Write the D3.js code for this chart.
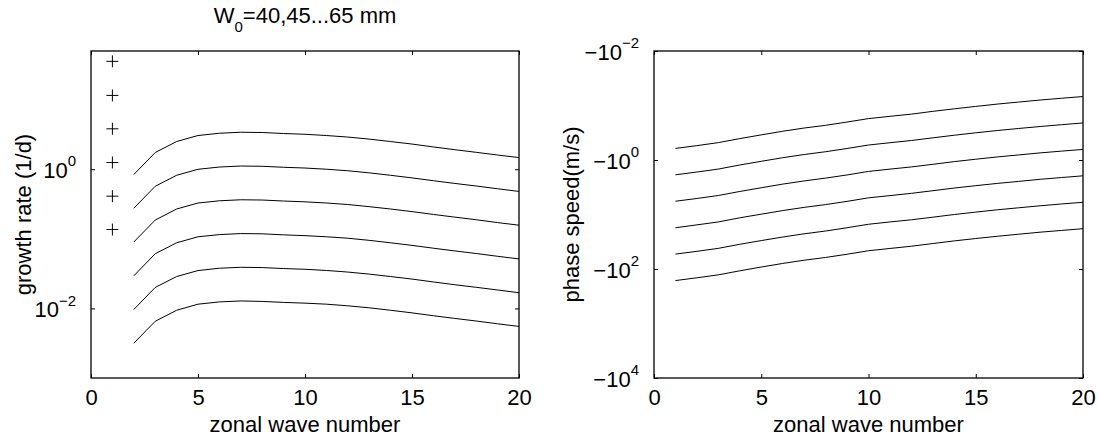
<!DOCTYPE html>
<html>
<head>
<meta charset="utf-8">
<script src="https://cdn.jsdelivr.net/npm/d3@7"></script>
<style>
  body { margin: 0; background: #fff; }
  text { font-family: "Liberation Sans", Arial, sans-serif; fill: #000; }
</style>
</head>
<body>
<svg id="chart" width="1098" height="440"></svg>
<script>
// wave numbers
const waveGrowth = [2, 3, 4, 5, 6, 7, 8, 9, 10, 11, 12, 13, 14, 15, 16, 17, 18, 19, 20];
const waveSpeed  = [1, 2, 3, 4, 5, 6, 7, 8, 9, 10, 11, 12, 13, 14, 15, 16, 17, 18, 19, 20];

// growth rate (1/d), one row per W0, top curve first
const growth65 = [0.839, 1.738, 2.50, 3.05, 3.29, 3.40, 3.37, 3.26, 3.18, 3.05, 2.90, 2.71, 2.50, 2.30, 2.09, 1.91, 1.75, 1.60, 1.47];
const growth60 = [0.275, 0.569, 0.818, 0.998, 1.076, 1.112, 1.102, 1.067, 1.040, 1.000, 0.951, 0.887, 0.818, 0.751, 0.684, 0.625, 0.574, 0.524, 0.480];
const growth55 = [0.0899, 0.186, 0.268, 0.327, 0.352, 0.364, 0.361, 0.349, 0.340, 0.327, 0.311, 0.290, 0.268, 0.246, 0.224, 0.205, 0.188, 0.171, 0.157];
const growth50 = [0.0294, 0.0610, 0.0877, 0.107, 0.115, 0.119, 0.118, 0.114, 0.111, 0.107, 0.102, 0.0951, 0.0877, 0.0805, 0.0733, 0.0670, 0.0615, 0.0561, 0.0514];
const growth45 = [0.00964, 0.0200, 0.0287, 0.0350, 0.0378, 0.0390, 0.0386, 0.0374, 0.0365, 0.0351, 0.0333, 0.0311, 0.0287, 0.0264, 0.0240, 0.0219, 0.0201, 0.0184, 0.0168];
const growth40 = [0.00316, 0.00653, 0.00940, 0.0115, 0.0124, 0.0128, 0.0126, 0.0122, 0.0119, 0.0115, 0.0109, 0.0102, 0.00940, 0.00863, 0.00785, 0.00718, 0.00659, 0.00601, 0.00551];
// growth rate at wave number 1 (the + marks)
const growthK1 = [35.5, 11.5, 3.81, 1.25, 0.410, 0.136];

// phase speed (m/s), top curve first
const speed1 = [-0.612, -0.545, -0.480, -0.405, -0.346, -0.297, -0.259, -0.231, -0.201, -0.174, -0.158, -0.144, -0.128, -0.115, -0.104, -0.0942, -0.0865, -0.0794, -0.0736, -0.0685];
const speed2 = [-1.871, -1.663, -1.466, -1.236, -1.057, -0.908, -0.793, -0.705, -0.615, -0.531, -0.482, -0.439, -0.392, -0.351, -0.317, -0.288, -0.264, -0.243, -0.225, -0.209];
const speed3 = [-5.71, -5.08, -4.48, -3.78, -3.23, -2.77, -2.42, -2.15, -1.88, -1.62, -1.47, -1.34, -1.20, -1.07, -0.968, -0.879, -0.807, -0.741, -0.687, -0.640];
const speed4 = [-17.5, -15.5, -13.7, -11.5, -9.86, -8.47, -7.40, -6.58, -5.74, -4.95, -4.50, -4.09, -3.66, -3.27, -2.96, -2.69, -2.47, -2.26, -2.10, -1.95];
const speed5 = [-53.3, -47.4, -41.8, -35.2, -30.1, -25.9, -22.6, -20.1, -17.5, -15.1, -13.7, -12.5, -11.2, -10.0, -9.04, -8.20, -7.53, -6.92, -6.41, -5.97];
const speed6 = [-163, -145, -128, -108, -92.0, -79.1, -69.0, -61.4, -53.6, -46.2, -42.0, -38.2, -34.1, -30.5, -27.6, -25.1, -23.0, -21.1, -19.6, -18.2];

const xTicks = [0, 5, 10, 15, 20];
const growthTicks = [1e-2, 1e0];
const speedTicks = [-1e-2, -1e0, -1e2, -1e4];

const growthSeries = [growth65, growth60, growth55, growth50, growth45, growth40];
const speedSeries = [speed1, speed2, speed3, speed4, speed5, speed6];

const svg = d3.select("#chart");
const plotTop = 51, plotHeight = 327;
const fontSize = 22, supSize = 15;

// superscript tick labels like 10^0 or −10^2
function powLabels(sel, minus) {
  sel.selectAll(".tick text").each(function (d) {
    const e = Math.round(Math.log10(Math.abs(d)));
    const t = d3.select(this).text(null).attr("dy", "0.38em");
    t.append("tspan").text((minus ? "\u2212" : "") + "10");
    t.append("tspan").attr("font-size", supSize).attr("dy", "-0.78em")
      .text(e < 0 ? "\u2212" + (-e) : String(e));
  });
}

function panel(left, width, y, yTicks, minus) {
  const g = svg.append("g").attr("transform", `translate(${left}, ${plotTop})`);
  const x = d3.scaleLinear().domain([0, 20]).range([0, width]);

  const axes = [
    g.append("g").attr("transform", `translate(0, ${plotHeight})`)
      .call(d3.axisBottom(x).tickValues(xTicks).tickSize(-4).tickPadding(11).tickFormat(d3.format("d"))),
    g.append("g")
      .call(d3.axisTop(x).tickValues(xTicks).tickSize(-4).tickFormat("")),
    g.append("g")
      .call(d3.axisLeft(y).tickValues(yTicks).tickSize(-4).tickPadding(15)),
    g.append("g").attr("transform", `translate(${width}, 0)`)
      .call(d3.axisRight(y).tickValues(yTicks).tickSize(-4).tickFormat(""))
  ];
  axes.forEach(a => {
    a.attr("font-size", fontSize).attr("font-family", null);
    a.select(".domain").remove();
    a.selectAll(".tick line").attr("stroke", "#000").attr("stroke-width", 1);
  });
  powLabels(axes[2], minus);

  g.append("rect")
    .attr("width", width).attr("height", plotHeight)
    .attr("fill", "none").attr("stroke", "#000").attr("stroke-width", 1.3);

  g.append("text")
    .attr("x", width / 2).attr("y", 432 - plotTop)
    .attr("text-anchor", "middle").attr("font-size", fontSize)
    .text("zonal wave number");

  return { g, x };
}

// left: growth rate
const yGrowth = d3.scaleLog().domain([1e-3, 50]).range([plotHeight, 0]);
const L = panel(91, 428, yGrowth, growthTicks, false);

L.g.selectAll(".growth")
  .data(growthSeries).join("path")
  .attr("fill", "none").attr("stroke", "#000").attr("stroke-width", 1)
  .attr("d", d3.line().x((d, i) => L.x(waveGrowth[i])).y(d => yGrowth(d)));

L.g.selectAll(".plus")
  .data(growthK1).join("path")
  .attr("transform", d => `translate(${L.x(1)}, ${yGrowth(d)})`)
  .attr("d", "M-6,0H6M0,-6V6")
  .attr("stroke", "#000").attr("stroke-width", 1);

svg.append("text")
  .attr("transform", "translate(31, 214.5) rotate(-90)")
  .attr("text-anchor", "middle").attr("font-size", fontSize)
  .text("growth rate (1/d)");

const title = svg.append("text")
  .attr("x", 305).attr("y", 23)
  .attr("text-anchor", "middle").attr("font-size", fontSize);
title.append("tspan").text("W");
title.append("tspan").attr("font-size", supSize).attr("dy", 9).text("0");
title.append("tspan").attr("dy", -9).text("=40,45...65 mm");

// right: phase speed, log scale on the magnitude (values are negative)
const ySpeed = d3.scaleLog().domain([1e-2, 1e4]).range([0, plotHeight]);
const R = panel(654, 429, ySpeed, speedTicks.map(Math.abs), true);

R.g.selectAll(".speed")
  .data(speedSeries).join("path")
  .attr("fill", "none").attr("stroke", "#000").attr("stroke-width", 1)
  .attr("d", d3.line().x((d, i) => R.x(waveSpeed[i])).y(d => ySpeed(-d)));

svg.append("text")
  .attr("transform", "translate(579, 214.5) rotate(-90)")
  .attr("text-anchor", "middle").attr("font-size", fontSize)
  .text("phase speed(m/s)");
</script>
</body>
</html>
